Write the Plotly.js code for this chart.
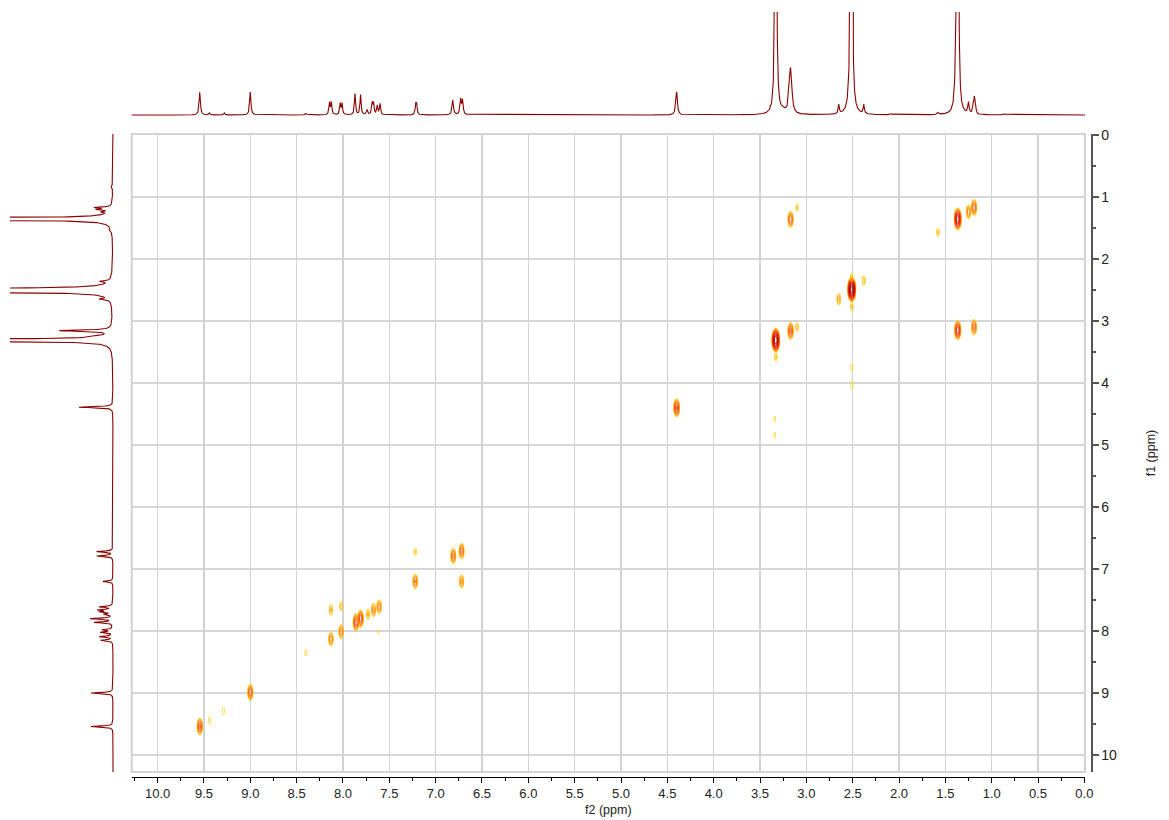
<!DOCTYPE html>
<html><head><meta charset="utf-8">
<script src="https://cdn.plot.ly/plotly-3.0.1.min.js"></script>
<style>html,body{margin:0;padding:0;background:#fff}#chart{width:1169px;height:820px}</style>
</head><body><div id="chart"></div>
<script>
// ---- 2D cross peaks (COSY) : f2 ppm, f1 ppm, log-intensity level ----
const crossF2 = [1.366, 1.25, 1.19, 1.58, 3.17, 3.10, 2.51, 2.51, 2.51, 2.38, 2.65, 3.33, 3.33, 3.17, 3.10,
                 1.366, 1.19, 2.51, 2.51, 3.34, 3.34, 4.40, 7.22, 6.81, 6.72, 7.22, 6.72, 8.13, 8.02,
                 7.86, 7.81, 7.73, 7.67, 7.61, 7.62, 8.02, 8.13, 9.00, 9.545, 9.44, 9.29, 8.40];
const crossF1 = [1.355, 1.24, 1.17, 1.57, 1.36, 1.17, 2.49, 2.30, 2.77, 2.35, 2.65, 3.31, 3.58, 3.16, 3.10,
                 3.15, 3.10, 3.75, 4.03, 4.58, 4.84, 4.40, 6.72, 6.79, 6.71, 7.20, 7.20, 7.66, 7.60,
                 7.86, 7.80, 7.73, 7.66, 7.61, 8.01, 8.01, 8.13, 8.99, 9.54, 9.44, 9.29, 8.35];
const crossLevel = [2.3, 1.0, 1.3, 0.4, 1.3, 0.35, 3.0, 0.4, 0.4, 0.5, 0.7, 2.8, 0.4, 1.4, 0.45,
                    1.8, 1.2, 0.3, 0.3, 0.2, 0.2, 1.6, 0.35, 1.2, 1.2, 1.1, 0.9, 0.6, 0.45,
                    1.5, 1.5, 0.6, 0.9, 1.0, 0.12, 1.0, 1.0, 1.3, 1.4, 0.3, 0.3, 0.25];

// ---- top 1D projection (f2): ppm, height (px units), half width (ppm) ----
const topPpm    = [9.545, 9.44, 9.28, 9.00, 8.40, 8.145, 8.125, 8.03, 8.01, 7.87, 7.81, 7.74, 7.685, 7.67, 7.63, 7.60,
                   7.215, 7.205, 6.815, 6.73, 6.71, 4.40, 3.33, 3.25, 3.175, 3.165, 2.65, 2.515, 2.38, 2.09, 1.58,
                   1.385, 1.365, 1.25, 1.20, 1.187, 1.175, 0.87];
const topHeight = [23, 2, 2, 23, 1.5, 12, 12, 11, 11, 21, 20, 5, 11, 11, 9, 11,
                   9, 9, 15, 15, 14, 23, 700, 3, 26, 26, 9, 900, 9, 1, 2,
                   55, 600, 11, 8, 14, 8, 1];
const topWidth  = [0.008, 0.008, 0.008, 0.008, 0.01, 0.007, 0.007, 0.007, 0.007, 0.007, 0.007, 0.008, 0.007, 0.007, 0.007, 0.007,
                   0.007, 0.007, 0.009, 0.008, 0.008, 0.01, 0.006, 0.03, 0.014, 0.014, 0.007, 0.006, 0.007, 0.01, 0.01,
                   0.01, 0.006, 0.008, 0.007, 0.006, 0.007, 0.01];

// ---- left 1D projection (f1): ppm, height (px units), half width (ppm) ----
const leftPpm    = [0.83, 1.17, 1.20, 1.24, 1.355, 1.53, 2.36, 2.49, 2.52, 2.645, 3.156, 3.24, 3.31, 4.39,
                    6.72, 6.79, 7.20, 7.61, 7.66, 7.69, 7.73, 7.80, 7.86, 7.98, 8.02, 8.09, 8.15, 9.00, 9.54];
const leftHeight = [2, 16, 13, 7, 900, 2, 9, 700, 700, 9, 51, 7, 900, 34,
                    16, 16, 10, 13, 14, 12, 8, 22, 18, 10, 12, 13, 12, 22, 22];
const leftWidth  = [0.02, 0.01, 0.01, 0.01, 0.008, 0.02, 0.01, 0.008, 0.008, 0.01, 0.012, 0.01, 0.008, 0.01,
                    0.01, 0.01, 0.01, 0.01, 0.01, 0.01, 0.01, 0.01, 0.01, 0.01, 0.01, 0.01, 0.01, 0.01, 0.01];

const xTickVals = [10, 9.5, 9, 8.5, 8, 7.5, 7, 6.5, 6, 5.5, 5, 4.5, 4, 3.5, 3, 2.5, 2, 1.5, 1, 0.5, 0];
const xTickText = ['10.0','9.5','9.0','8.5','8.0','7.5','7.0','6.5','6.0','5.5','5.0','4.5','4.0','3.5','3.0','2.5','2.0','1.5','1.0','0.5','0.0'];
const yTickVals = [0,1,2,3,4,5,6,7,8,9,10];

// ---------------- build ----------------
const W = 1169, H = 820;
const px = v => v / W, py = v => 1 - v / H;
const X_RANGE = [10.28, -0.007];
const Y_RANGE = [10.274, -0.016];
const SPEC_COLOR = '#8B0000';
const FONT = 'Liberation Sans, Arial, sans-serif';

const colorscale = [[0,'#FFD21F'],[0.12,'#FFA800'],[0.3,'#FF6A00'],[0.5,'#FF2200'],[0.72,'#D00000'],[1,'#8B0000']];
const traces = [];
const sx = 0.012, sy = 0.055;
crossF2.forEach((cx, k) => {
  const cy = crossF1[k], A = crossLevel[k];
  const r = Math.sqrt(2 * A / Math.LOG10E) + 0.7;
  const nx = 41, ny = 61;
  const xs = [], ys = [], z = [];
  for (let i = 0; i < nx; i++) xs.push(cx - r * sx + 2 * r * sx * i / (nx - 1));
  for (let j = 0; j < ny; j++) ys.push(cy - r * sy + 2 * r * sy * j / (ny - 1));
  for (let j = 0; j < ny; j++) {
    const row = [];
    for (let i = 0; i < nx; i++) {
      const dx = (xs[i] - cx) / sx, dy = (ys[j] - cy) / sy;
      row.push(A - 0.5 * (dx * dx + dy * dy) * Math.LOG10E);
    }
    z.push(row);
  }
  traces.push({
    type: 'contour', x: xs, y: ys, z: z, xaxis: 'x', yaxis: 'y',
    autocontour: false, contours: {start: 0.05, end: 3.3, size: 0.25, coloring: 'lines'},
    zauto: false, zmin: 0, zmax: 3, colorscale: colorscale, showscale: false,
    line: {width: 1, smoothing: 1}, hoverinfo: 'skip'
  });
});

function spectrum(ppms, heights, widths) {
  const grid = [], vals = [];
  for (let v = -0.02; v <= 10.3; v += 0.002) {
    let s = 0;
    for (let k = 0; k < ppms.length; k++) {
      const d = (v - ppms[k]) / widths[k];
      s += heights[k] / (1 + d * d);
    }
    grid.push(v); vals.push(s);
  }
  return {grid, vals};
}
const topSpec = spectrum(topPpm, topHeight, topWidth);
const leftSpec = spectrum(leftPpm, leftHeight, leftWidth);

traces.push({type: 'scatter', mode: 'lines', x: topSpec.grid, y: topSpec.vals, xaxis: 'x2', yaxis: 'y2',
  line: {color: SPEC_COLOR, width: 1.1}, hoverinfo: 'skip', showlegend: false});
traces.push({type: 'scatter', mode: 'lines', x: leftSpec.vals, y: leftSpec.grid, xaxis: 'x3', yaxis: 'y3',
  line: {color: SPEC_COLOR, width: 1.1}, hoverinfo: 'skip', showlegend: false});

const layout = {
  width: W, height: H, margin: {l: 0, r: 0, t: 0, b: 0},
  paper_bgcolor: '#ffffff', plot_bgcolor: '#ffffff', showlegend: false,
  font: {family: FONT, size: 13, color: '#222'},
  xaxis: {
    domain: [px(131.7), px(1085)], range: X_RANGE, anchor: 'free', position: py(776.7),
    tickmode: 'array', tickvals: xTickVals, ticktext: xTickText,
    ticks: 'outside', ticklen: 5, tickcolor: '#000', tickwidth: 1,
    showline: true, linecolor: '#000', linewidth: 1,
    showgrid: true, gridcolor: '#d2d2d2', gridwidth: 1.4, zeroline: false,
    minor: {dtick: 0.25, tick0: 0, ticks: 'outside', ticklen: 3, tickcolor: '#000', showgrid: false},
    tickfont: {size: 13, color: '#222'},
    title: {text: 'f2 (ppm)', font: {size: 12.5, color: '#222'}, standoff: 4}
  },
  yaxis: {
    domain: [py(772), py(134)], range: Y_RANGE, anchor: 'free', position: px(1091), side: 'right',
    tickmode: 'array', tickvals: yTickVals,
    ticks: 'outside', ticklen: 6, tickcolor: '#555', tickwidth: 1.2,
    showline: true, linecolor: '#555', linewidth: 1.5,
    showgrid: true, gridcolor: '#d6d6d6', gridwidth: 1.6, zeroline: false,
    minor: {dtick: 0.5, tick0: 0, ticks: 'outside', ticklen: 3, tickcolor: '#555', showgrid: false},
    tickfont: {size: 14, color: '#222'},
    title: {text: 'f1 (ppm)', font: {size: 12.5, color: '#222'}, standoff: 30}
  },
  xaxis2: {domain: [px(131.7), px(1085)], range: X_RANGE, anchor: 'y2', visible: false, fixedrange: true},
  yaxis2: {domain: [py(118), py(12)], range: [-3, 103], anchor: 'x2', visible: false, fixedrange: true},
  xaxis3: {domain: [px(10), px(116)], range: [103, -3], anchor: 'y3', visible: false, fixedrange: true},
  yaxis3: {domain: [py(772), py(134)], range: Y_RANGE, anchor: 'x3', visible: false, fixedrange: true},
  shapes: [{type: 'rect', xref: 'paper', yref: 'paper', x0: px(131.7), x1: px(1085), y0: py(772), y1: py(134),
            line: {color: '#d4d4d4', width: 2.2}, layer: 'above'}]
};

Plotly.newPlot('chart', traces, layout, {displayModeBar: false, staticPlot: true});
</script>
</body></html>
